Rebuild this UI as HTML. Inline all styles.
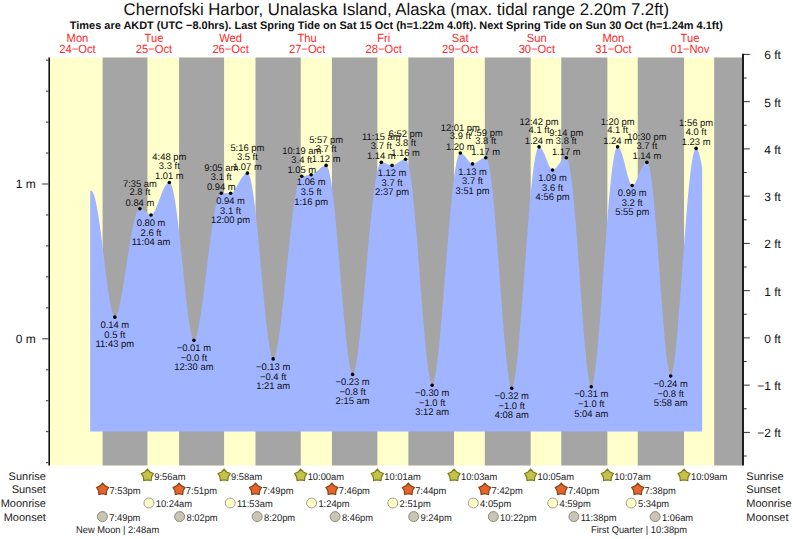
<!DOCTYPE html>
<html><head><meta charset="utf-8"><style>
html,body{margin:0;padding:0;background:#fff;width:793px;height:539px;overflow:hidden}
svg{display:block}
text{font-family:"Liberation Sans",sans-serif;text-rendering:geometricPrecision}
.tl{font-size:9.6px;fill:#111;text-anchor:middle}
.ax{font-size:12px;fill:#111}
.title{font-size:17px;fill:#111;text-anchor:middle}
.sub{font-size:11px;font-weight:bold;fill:#111;text-anchor:middle}
.day{font-size:11.9px;fill:#ff2626;text-anchor:middle}
.row{font-size:11px;fill:#222}
.ev{font-size:9.8px;fill:#222}
</style></head><body>
<svg width="793" height="539" viewBox="0 0 793 539">
<rect x="50" y="57.5" width="692" height="408.0" fill="#ffffcc"/>
<rect x="102.60" y="57.5" width="44.82" height="408.0" fill="#a5a5a5"/>
<rect x="179.05" y="57.5" width="45.03" height="408.0" fill="#a5a5a5"/>
<rect x="255.51" y="57.5" width="45.24" height="408.0" fill="#a5a5a5"/>
<rect x="331.91" y="57.5" width="45.46" height="408.0" fill="#a5a5a5"/>
<rect x="408.36" y="57.5" width="45.67" height="408.0" fill="#a5a5a5"/>
<rect x="484.81" y="57.5" width="45.88" height="408.0" fill="#a5a5a5"/>
<rect x="561.27" y="57.5" width="46.10" height="408.0" fill="#a5a5a5"/>
<rect x="637.72" y="57.5" width="46.31" height="408.0" fill="#a5a5a5"/>
<rect x="714.17" y="57.5" width="27.83" height="408.0" fill="#a5a5a5"/>
<path d="M90.20,431.5L90.20,190.66L90.52,190.66L90.84,190.66L91.16,190.67L91.48,190.77L91.80,190.97L92.11,191.27L92.43,191.67L92.75,192.17L93.07,192.77L93.39,193.46L93.71,194.25L94.03,195.14L94.35,196.12L94.67,197.20L94.98,198.36L95.30,199.61L95.62,200.95L95.94,202.38L96.26,203.89L96.58,205.48L96.90,207.15L97.22,208.89L97.54,210.71L97.86,212.59L98.17,214.55L98.49,216.57L98.81,218.65L99.13,220.79L99.45,222.98L99.77,225.23L100.09,227.52L100.41,229.86L100.73,232.24L101.05,234.66L101.36,237.11L101.68,239.59L102.00,242.09L102.32,244.62L102.64,247.17L102.96,249.73L103.28,252.30L103.60,254.88L103.92,257.46L104.24,260.04L104.55,262.61L104.87,265.17L105.19,267.72L105.51,270.25L105.83,272.75L106.15,275.23L106.47,277.68L106.79,280.09L107.11,282.46L107.43,284.79L107.74,287.07L108.06,289.31L108.38,291.48L108.70,293.60L109.02,295.65L109.34,297.64L109.66,299.55L109.98,301.39L110.30,303.15L110.62,304.83L110.93,306.42L111.25,307.92L111.57,309.32L111.89,310.63L112.21,311.83L112.53,312.93L112.85,313.91L113.17,314.78L113.49,315.53L113.81,316.15L114.12,316.63L114.44,316.96L114.76,317.12L115.08,317.06L115.40,316.86L115.72,316.52L116.04,316.08L116.36,315.54L116.68,314.90L117.00,314.16L117.31,313.34L117.63,312.43L117.95,311.44L118.27,310.37L118.59,309.23L118.91,308.01L119.23,306.72L119.55,305.36L119.87,303.94L120.19,302.46L120.50,300.92L120.82,299.32L121.14,297.67L121.46,295.97L121.78,294.22L122.10,292.43L122.42,290.60L122.74,288.73L123.06,286.82L123.38,284.88L123.69,282.91L124.01,280.92L124.33,278.90L124.65,276.86L124.97,274.80L125.29,272.73L125.61,270.65L125.93,268.56L126.25,266.46L126.57,264.36L126.88,262.26L127.20,260.17L127.52,258.08L127.84,256.00L128.16,253.94L128.48,251.89L128.80,249.86L129.12,247.85L129.44,245.86L129.76,243.91L130.07,241.98L130.39,240.08L130.71,238.22L131.03,236.39L131.35,234.61L131.67,232.87L131.99,231.17L132.31,229.52L132.63,227.92L132.95,226.37L133.26,224.88L133.58,223.44L133.90,222.06L134.22,220.74L134.54,219.48L134.86,218.28L135.18,217.15L135.50,216.08L135.82,215.08L136.14,214.16L136.45,213.30L136.77,212.51L137.09,211.80L137.41,211.16L137.73,210.59L138.05,210.10L138.37,209.69L138.69,209.35L139.01,209.09L139.33,208.90L139.64,208.80L139.96,208.77L140.28,208.78L140.60,208.82L140.92,208.88L141.24,208.96L141.56,209.06L141.88,209.19L142.20,209.33L142.52,209.49L142.83,209.67L143.15,209.86L143.47,210.08L143.79,210.30L144.11,210.54L144.43,210.78L144.75,211.04L145.07,211.30L145.39,211.57L145.71,211.84L146.02,212.11L146.34,212.38L146.66,212.64L146.98,212.91L147.30,213.16L147.62,213.41L147.94,213.64L148.26,213.86L148.58,214.07L148.90,214.26L149.21,214.43L149.53,214.59L149.85,214.72L150.17,214.82L150.49,214.90L150.81,214.95L151.13,214.95L151.45,214.88L151.77,214.74L152.09,214.53L152.40,214.27L152.72,213.96L153.04,213.60L153.36,213.19L153.68,212.73L154.00,212.24L154.32,211.70L154.64,211.13L154.96,210.52L155.28,209.88L155.59,209.21L155.91,208.51L156.23,207.79L156.55,207.04L156.87,206.26L157.19,205.47L157.51,204.66L157.83,203.84L158.15,203.00L158.47,202.16L158.78,201.30L159.10,200.44L159.42,199.58L159.74,198.72L160.06,197.85L160.38,196.99L160.70,196.14L161.02,195.30L161.34,194.47L161.66,193.65L161.97,192.84L162.29,192.05L162.61,191.28L162.93,190.54L163.25,189.81L163.57,189.11L163.89,188.44L164.21,187.79L164.53,187.18L164.85,186.60L165.16,186.05L165.48,185.53L165.80,185.06L166.12,184.61L166.44,184.21L166.76,183.85L167.08,183.53L167.40,183.24L167.72,183.00L168.04,182.81L168.35,182.65L168.67,182.54L168.99,182.48L169.31,182.45L169.63,182.51L169.95,182.68L170.27,182.97L170.59,183.38L170.91,183.91L171.23,184.55L171.54,185.31L171.86,186.18L172.18,187.16L172.50,188.26L172.82,189.47L173.14,190.78L173.46,192.20L173.78,193.73L174.10,195.36L174.42,197.08L174.73,198.91L175.05,200.83L175.37,202.84L175.69,204.94L176.01,207.13L176.33,209.40L176.65,211.75L176.97,214.18L177.29,216.68L177.61,219.25L177.93,221.89L178.24,224.59L178.56,227.34L178.88,230.15L179.20,233.01L179.52,235.92L179.84,238.87L180.16,241.86L180.48,244.87L180.80,247.92L181.12,250.99L181.43,254.08L181.75,257.19L182.07,260.31L182.39,263.43L182.71,266.55L183.03,269.68L183.35,272.79L183.67,275.89L183.99,278.97L184.31,282.03L184.62,285.06L184.94,288.06L185.26,291.03L185.58,293.95L185.90,296.83L186.22,299.65L186.54,302.42L186.86,305.14L187.18,307.78L187.50,310.36L187.81,312.87L188.13,315.30L188.45,317.64L188.77,319.90L189.09,322.07L189.41,324.14L189.73,326.11L190.05,327.98L190.37,329.74L190.69,331.38L191.00,332.91L191.32,334.31L191.64,335.59L191.96,336.73L192.28,337.73L192.60,338.59L192.92,339.30L193.24,339.84L193.56,340.20L193.88,340.35L194.19,340.24L194.51,339.98L194.83,339.57L195.15,339.04L195.47,338.39L195.79,337.63L196.11,336.75L196.43,335.78L196.75,334.71L197.07,333.54L197.38,332.28L197.70,330.93L198.02,329.49L198.34,327.97L198.66,326.37L198.98,324.69L199.30,322.94L199.62,321.12L199.94,319.23L200.26,317.28L200.57,315.26L200.89,313.18L201.21,311.05L201.53,308.87L201.85,306.63L202.17,304.35L202.49,302.02L202.81,299.66L203.13,297.25L203.45,294.81L203.76,292.34L204.08,289.84L204.40,287.32L204.72,284.78L205.04,282.21L205.36,279.63L205.68,277.04L206.00,274.44L206.32,271.83L206.64,269.22L206.95,266.61L207.27,264.01L207.59,261.41L207.91,258.82L208.23,256.24L208.55,253.68L208.87,251.13L209.19,248.61L209.51,246.12L209.83,243.65L210.14,241.21L210.46,238.81L210.78,236.44L211.10,234.11L211.42,231.82L211.74,229.58L212.06,227.38L212.38,225.24L212.70,223.14L213.02,221.10L213.33,219.12L213.65,217.20L213.97,215.33L214.29,213.53L214.61,211.80L214.93,210.13L215.25,208.54L215.57,207.01L215.89,205.56L216.21,204.18L216.52,202.88L216.84,201.65L217.16,200.51L217.48,199.44L217.80,198.46L218.12,197.56L218.44,196.75L218.76,196.01L219.08,195.37L219.40,194.81L219.71,194.33L220.03,193.95L220.35,193.65L220.67,193.44L220.99,193.32L221.31,193.29L221.63,193.29L221.95,193.29L222.27,193.29L222.59,193.29L222.90,193.29L223.22,193.29L223.54,193.29L223.86,193.29L224.18,193.29L224.50,193.29L224.82,193.29L225.14,193.29L225.46,193.29L225.78,193.29L226.09,193.29L226.41,193.29L226.73,193.29L227.05,193.29L227.37,193.29L227.69,193.29L228.01,193.29L228.33,193.29L228.65,193.29L228.97,193.29L229.28,193.29L229.60,193.29L229.92,193.29L230.24,193.29L230.56,193.29L230.88,193.25L231.20,193.17L231.52,193.03L231.84,192.86L232.16,192.64L232.47,192.40L232.79,192.11L233.11,191.80L233.43,191.45L233.75,191.08L234.07,190.68L234.39,190.26L234.71,189.81L235.03,189.34L235.35,188.85L235.66,188.34L235.98,187.82L236.30,187.29L236.62,186.74L236.94,186.18L237.26,185.61L237.58,185.04L237.90,184.46L238.22,183.88L238.54,183.30L238.85,182.72L239.17,182.14L239.49,181.56L239.81,181.00L240.13,180.44L240.45,179.89L240.77,179.35L241.09,178.83L241.41,178.32L241.73,177.82L242.04,177.35L242.36,176.89L242.68,176.46L243.00,176.05L243.32,175.66L243.64,175.29L243.96,174.96L244.28,174.64L244.60,174.36L244.92,174.10L245.23,173.88L245.55,173.68L245.87,173.52L246.19,173.38L246.51,173.28L246.83,173.21L247.15,173.17L247.47,173.17L247.79,173.27L248.11,173.50L248.42,173.85L248.74,174.33L249.06,174.93L249.38,175.66L249.70,176.51L250.02,177.48L250.34,178.58L250.66,179.79L250.98,181.12L251.30,182.56L251.61,184.12L251.93,185.80L252.25,187.58L252.57,189.47L252.89,191.47L253.21,193.56L253.53,195.76L253.85,198.06L254.17,200.45L254.49,202.93L254.80,205.49L255.12,208.15L255.44,210.88L255.76,213.69L256.08,216.58L256.40,219.53L256.72,222.55L257.04,225.64L257.36,228.78L257.68,231.98L257.99,235.22L258.31,238.52L258.63,241.85L258.95,245.22L259.27,248.62L259.59,252.05L259.91,255.51L260.23,258.98L260.55,262.47L260.87,265.96L261.18,269.46L261.50,272.96L261.82,276.46L262.14,279.94L262.46,283.42L262.78,286.87L263.10,290.30L263.42,293.70L263.74,297.06L264.06,300.39L264.37,303.67L264.69,306.91L265.01,310.09L265.33,313.22L265.65,316.28L265.97,319.28L266.29,322.21L266.61,325.05L266.93,327.82L267.25,330.51L267.56,333.10L267.88,335.60L268.20,338.00L268.52,340.30L268.84,342.49L269.16,344.57L269.48,346.53L269.80,348.37L270.12,350.09L270.44,351.67L270.75,353.12L271.07,354.42L271.39,355.58L271.71,356.59L272.03,357.43L272.35,358.10L272.67,358.59L272.99,358.87L273.31,358.89L273.63,358.67L273.94,358.28L274.26,357.74L274.58,357.06L274.90,356.25L275.22,355.31L275.54,354.25L275.86,353.07L276.18,351.78L276.50,350.39L276.82,348.88L277.13,347.28L277.45,345.57L277.77,343.78L278.09,341.89L278.41,339.91L278.73,337.85L279.05,335.71L279.37,333.48L279.69,331.19L280.01,328.82L280.32,326.38L280.64,323.88L280.96,321.31L281.28,318.69L281.60,316.01L281.92,313.27L282.24,310.49L282.56,307.67L282.88,304.80L283.20,301.89L283.51,298.95L283.83,295.98L284.15,292.98L284.47,289.95L284.79,286.90L285.11,283.84L285.43,280.76L285.75,277.66L286.07,274.57L286.39,271.46L286.70,268.36L287.02,265.26L287.34,262.16L287.66,259.08L287.98,256.01L288.30,252.95L288.62,249.91L288.94,246.90L289.26,243.91L289.58,240.96L289.89,238.03L290.21,235.14L290.53,232.29L290.85,229.48L291.17,226.72L291.49,224.00L291.81,221.34L292.13,218.72L292.45,216.17L292.77,213.67L293.08,211.24L293.40,208.86L293.72,206.56L294.04,204.33L294.36,202.16L294.68,200.07L295.00,198.06L295.32,196.12L295.64,194.27L295.96,192.49L296.27,190.80L296.59,189.20L296.91,187.68L297.23,186.25L297.55,184.92L297.87,183.67L298.19,182.52L298.51,181.46L298.83,180.50L299.15,179.63L299.46,178.86L299.78,178.19L300.10,177.62L300.42,177.15L300.74,176.78L301.06,176.50L301.38,176.33L301.70,176.26L302.02,176.25L302.34,176.24L302.65,176.21L302.97,176.17L303.29,176.13L303.61,176.08L303.93,176.02L304.25,175.96L304.57,175.89L304.89,175.82L305.21,175.74L305.53,175.67L305.84,175.59L306.16,175.51L306.48,175.43L306.80,175.35L307.12,175.27L307.44,175.20L307.76,175.12L308.08,175.06L308.40,174.99L308.72,174.94L309.03,174.88L309.35,174.84L309.67,174.80L309.99,174.77L310.31,174.74L310.63,174.72L310.95,174.71L311.27,174.71L311.59,174.68L311.91,174.62L312.22,174.54L312.54,174.43L312.86,174.30L313.18,174.15L313.50,173.99L313.82,173.80L314.14,173.60L314.46,173.39L314.78,173.16L315.10,172.92L315.41,172.67L315.73,172.40L316.05,172.13L316.37,171.85L316.69,171.56L317.01,171.27L317.33,170.97L317.65,170.67L317.97,170.37L318.29,170.07L318.60,169.77L318.92,169.47L319.24,169.17L319.56,168.88L319.88,168.59L320.20,168.31L320.52,168.04L320.84,167.78L321.16,167.52L321.48,167.28L321.79,167.05L322.11,166.83L322.43,166.62L322.75,166.43L323.07,166.25L323.39,166.09L323.71,165.95L324.03,165.82L324.35,165.71L324.67,165.62L324.98,165.54L325.30,165.48L325.62,165.45L325.94,165.43L326.26,165.44L326.58,165.57L326.90,165.83L327.22,166.23L327.54,166.77L327.86,167.43L328.17,168.23L328.49,169.16L328.81,170.22L329.13,171.41L329.45,172.72L329.77,174.17L330.09,175.73L330.41,177.42L330.73,179.23L331.05,181.15L331.36,183.20L331.68,185.35L332.00,187.62L332.32,189.99L332.64,192.47L332.96,195.04L333.28,197.72L333.60,200.50L333.92,203.36L334.24,206.31L334.55,209.35L334.87,212.47L335.19,215.66L335.51,218.93L335.83,222.27L336.15,225.67L336.47,229.13L336.79,232.65L337.11,236.22L337.43,239.84L337.74,243.50L338.06,247.20L338.38,250.94L338.70,254.70L339.02,258.49L339.34,262.29L339.66,266.12L339.98,269.95L340.30,273.78L340.62,277.62L340.93,281.45L341.25,285.27L341.57,289.07L341.89,292.86L342.21,296.62L342.53,300.35L342.85,304.04L343.17,307.70L343.49,311.31L343.81,314.87L344.12,318.37L344.44,321.82L344.76,325.20L345.08,328.51L345.40,331.75L345.72,334.91L346.04,337.98L346.36,340.97L346.68,343.86L347.00,346.65L347.31,349.35L347.63,351.93L347.95,354.40L348.27,356.76L348.59,358.99L348.91,361.10L349.23,363.08L349.55,364.92L349.87,366.62L350.19,368.17L350.50,369.58L350.82,370.82L351.14,371.90L351.46,372.80L351.78,373.52L352.10,374.05L352.42,374.35L352.74,374.37L353.06,374.11L353.38,373.67L353.69,373.04L354.01,372.26L354.33,371.32L354.65,370.24L354.97,369.02L355.29,367.66L355.61,366.17L355.93,364.56L356.25,362.82L356.56,360.97L356.88,359.01L357.20,356.93L357.52,354.75L357.84,352.47L358.16,350.09L358.48,347.62L358.80,345.06L359.12,342.41L359.44,339.67L359.75,336.86L360.07,333.97L360.39,331.01L360.71,327.98L361.03,324.88L361.35,321.73L361.67,318.52L361.99,315.26L362.31,311.94L362.63,308.59L362.94,305.19L363.26,301.75L363.58,298.28L363.90,294.79L364.22,291.26L364.54,287.72L364.86,284.16L365.18,280.58L365.50,277.00L365.82,273.41L366.13,269.82L366.45,266.24L366.77,262.65L367.09,259.08L367.41,255.53L367.73,251.99L368.05,248.47L368.37,244.98L368.69,241.52L369.01,238.09L369.32,234.70L369.64,231.35L369.96,228.04L370.28,224.79L370.60,221.58L370.92,218.42L371.24,215.33L371.56,212.29L371.88,209.32L372.20,206.42L372.51,203.58L372.83,200.82L373.15,198.14L373.47,195.53L373.79,193.01L374.11,190.57L374.43,188.22L374.75,185.96L375.07,183.79L375.39,181.71L375.70,179.73L376.02,177.85L376.34,176.06L376.66,174.38L376.98,172.81L377.30,171.34L377.62,169.97L377.94,168.71L378.26,167.57L378.58,166.53L378.89,165.61L379.21,164.80L379.53,164.10L379.85,163.52L380.17,163.05L380.49,162.70L380.81,162.46L381.13,162.34L381.45,162.33L381.77,162.34L382.08,162.36L382.40,162.40L382.72,162.45L383.04,162.51L383.36,162.58L383.68,162.65L384.00,162.74L384.32,162.84L384.64,162.95L384.96,163.06L385.27,163.18L385.59,163.31L385.91,163.44L386.23,163.58L386.55,163.71L386.87,163.85L387.19,163.99L387.51,164.13L387.83,164.27L388.15,164.41L388.46,164.54L388.78,164.66L389.10,164.79L389.42,164.90L389.74,165.00L390.06,165.10L390.38,165.19L390.70,165.26L391.02,165.32L391.34,165.37L391.65,165.41L391.97,165.42L392.29,165.41L392.61,165.38L392.93,165.32L393.25,165.24L393.57,165.15L393.89,165.04L394.21,164.92L394.53,164.78L394.84,164.63L395.16,164.47L395.48,164.29L395.80,164.11L396.12,163.92L396.44,163.72L396.76,163.51L397.08,163.30L397.40,163.09L397.72,162.87L398.03,162.65L398.35,162.43L398.67,162.20L398.99,161.98L399.31,161.77L399.63,161.55L399.95,161.34L400.27,161.13L400.59,160.94L400.91,160.74L401.22,160.56L401.54,160.38L401.86,160.22L402.18,160.07L402.50,159.92L402.82,159.79L403.14,159.67L403.46,159.57L403.78,159.48L404.10,159.40L404.41,159.34L404.73,159.29L405.05,159.25L405.37,159.24L405.69,159.24L406.01,159.35L406.33,159.61L406.65,160.02L406.97,160.57L407.29,161.26L407.60,162.09L407.92,163.06L408.24,164.18L408.56,165.43L408.88,166.82L409.20,168.35L409.52,170.00L409.84,171.79L410.16,173.71L410.48,175.76L410.79,177.93L411.11,180.22L411.43,182.63L411.75,185.16L412.07,187.80L412.39,190.55L412.71,193.41L413.03,196.37L413.35,199.43L413.67,202.59L413.98,205.83L414.30,209.17L414.62,212.59L414.94,216.09L415.26,219.66L415.58,223.31L415.90,227.02L416.22,230.79L416.54,234.62L416.86,238.50L417.17,242.44L417.49,246.41L417.81,250.42L418.13,254.46L418.45,258.53L418.77,262.63L419.09,266.74L419.41,270.86L419.73,274.99L420.05,279.12L420.36,283.25L420.68,287.37L421.00,291.48L421.32,295.56L421.64,299.62L421.96,303.65L422.28,307.65L422.60,311.60L422.92,315.51L423.24,319.37L423.55,323.17L423.87,326.90L424.19,330.57L424.51,334.17L424.83,337.69L425.15,341.13L425.47,344.48L425.79,347.74L426.11,350.89L426.43,353.95L426.74,356.90L427.06,359.73L427.38,362.45L427.70,365.04L428.02,367.51L428.34,369.84L428.66,372.03L428.98,374.09L429.30,375.99L429.62,377.74L429.93,379.32L430.25,380.75L430.57,381.99L430.89,383.06L431.21,383.93L431.53,384.60L431.85,385.05L432.17,385.24L432.49,385.08L432.81,384.68L433.12,384.07L433.44,383.27L433.76,382.29L434.08,381.14L434.40,379.83L434.72,378.37L435.04,376.75L435.36,374.99L435.68,373.09L436.00,371.05L436.31,368.89L436.63,366.60L436.95,364.18L437.27,361.65L437.59,359.01L437.91,356.26L438.23,353.41L438.55,350.45L438.87,347.41L439.19,344.27L439.50,341.04L439.82,337.73L440.14,334.34L440.46,330.88L440.78,327.36L441.10,323.76L441.42,320.11L441.74,316.40L442.06,312.64L442.38,308.84L442.69,304.99L443.01,301.11L443.33,297.19L443.65,293.25L443.97,289.28L444.29,285.30L444.61,281.30L444.93,277.29L445.25,273.28L445.57,269.27L445.88,265.26L446.20,261.26L446.52,257.28L446.84,253.31L447.16,249.37L447.48,245.45L447.80,241.57L448.12,237.72L448.44,233.91L448.76,230.15L449.07,226.43L449.39,222.77L449.71,219.16L450.03,215.61L450.35,212.13L450.67,208.72L450.99,205.38L451.31,202.11L451.63,198.92L451.95,195.82L452.26,192.80L452.58,189.88L452.90,187.04L453.22,184.30L453.54,181.66L453.86,179.12L454.18,176.69L454.50,174.36L454.82,172.14L455.14,170.04L455.45,168.05L455.77,166.17L456.09,164.41L456.41,162.78L456.73,161.26L457.05,159.87L457.37,158.61L457.69,157.47L458.01,156.46L458.33,155.58L458.64,154.83L458.96,154.21L459.28,153.72L459.60,153.36L459.92,153.14L460.24,153.04L460.56,153.05L460.88,153.09L461.20,153.17L461.52,153.28L461.83,153.41L462.15,153.58L462.47,153.78L462.79,154.01L463.11,154.26L463.43,154.54L463.75,154.85L464.07,155.17L464.39,155.52L464.71,155.89L465.02,156.27L465.34,156.66L465.66,157.07L465.98,157.49L466.30,157.91L466.62,158.34L466.94,158.77L467.26,159.20L467.58,159.63L467.90,160.05L468.21,160.46L468.53,160.86L468.85,161.25L469.17,161.62L469.49,161.97L469.81,162.30L470.13,162.61L470.45,162.89L470.77,163.14L471.09,163.36L471.40,163.54L471.72,163.69L472.04,163.80L472.36,163.86L472.68,163.87L473.00,163.84L473.32,163.79L473.64,163.72L473.96,163.62L474.28,163.51L474.59,163.39L474.91,163.25L475.23,163.10L475.55,162.93L475.87,162.75L476.19,162.56L476.51,162.37L476.83,162.16L477.15,161.95L477.47,161.73L477.78,161.51L478.10,161.29L478.42,161.06L478.74,160.83L479.06,160.60L479.38,160.38L479.70,160.15L480.02,159.93L480.34,159.72L480.66,159.51L480.97,159.31L481.29,159.11L481.61,158.93L481.93,158.75L482.25,158.59L482.57,158.44L482.89,158.30L483.21,158.17L483.53,158.06L483.85,157.96L484.16,157.87L484.48,157.80L484.80,157.75L485.12,157.71L485.44,157.69L485.76,157.69L486.08,157.78L486.40,158.04L486.72,158.44L487.04,159.00L487.35,159.71L487.67,160.58L487.99,161.59L488.31,162.75L488.63,164.06L488.95,165.52L489.27,167.12L489.59,168.87L489.91,170.75L490.23,172.77L490.54,174.93L490.86,177.22L491.18,179.63L491.50,182.18L491.82,184.85L492.14,187.63L492.46,190.54L492.78,193.55L493.10,196.68L493.42,199.91L493.73,203.24L494.05,206.67L494.37,210.19L494.69,213.79L495.01,217.48L495.33,221.25L495.65,225.09L495.97,229.00L496.29,232.97L496.61,237.00L496.92,241.08L497.24,245.21L497.56,249.38L497.88,253.59L498.20,257.83L498.52,262.10L498.84,266.39L499.16,270.69L499.48,275.00L499.80,279.31L500.11,283.62L500.43,287.92L500.75,292.20L501.07,296.47L501.39,300.71L501.71,304.91L502.03,309.08L502.35,313.21L502.67,317.29L502.99,321.31L503.30,325.27L503.62,329.16L503.94,332.99L504.26,336.73L504.58,340.39L504.90,343.96L505.22,347.44L505.54,350.82L505.86,354.09L506.18,357.24L506.49,360.29L506.81,363.21L507.13,366.00L507.45,368.66L507.77,371.18L508.09,373.56L508.41,375.78L508.73,377.86L509.05,379.77L509.37,381.51L509.68,383.08L510.00,384.47L510.32,385.66L510.64,386.66L510.96,387.45L511.28,388.01L511.60,388.31L511.92,388.26L512.24,387.90L512.56,387.30L512.87,386.49L513.19,385.49L513.51,384.29L513.83,382.91L514.15,381.36L514.47,379.65L514.79,377.77L515.11,375.75L515.43,373.57L515.75,371.25L516.06,368.79L516.38,366.20L516.70,363.48L517.02,360.63L517.34,357.67L517.66,354.59L517.98,351.41L518.30,348.12L518.62,344.73L518.94,341.25L519.25,337.68L519.57,334.03L519.89,330.29L520.21,326.49L520.53,322.61L520.85,318.67L521.17,314.67L521.49,310.62L521.81,306.52L522.13,302.38L522.44,298.20L522.76,293.99L523.08,289.75L523.40,285.49L523.72,281.22L524.04,276.93L524.36,272.64L524.68,268.34L525.00,264.05L525.32,259.77L525.63,255.51L525.95,251.26L526.27,247.04L526.59,242.85L526.91,238.69L527.23,234.57L527.55,230.50L527.87,226.48L528.19,222.51L528.51,218.60L528.82,214.75L529.14,210.97L529.46,207.26L529.78,203.63L530.10,200.08L530.42,196.62L530.74,193.24L531.06,189.96L531.38,186.77L531.70,183.69L532.01,180.70L532.33,177.83L532.65,175.06L532.97,172.41L533.29,169.88L533.61,167.46L533.93,165.17L534.25,163.01L534.57,160.97L534.89,159.06L535.20,157.28L535.52,155.64L535.84,154.13L536.16,152.76L536.48,151.53L536.80,150.44L537.12,149.50L537.44,148.69L537.76,148.03L538.08,147.52L538.39,147.15L538.71,146.93L539.03,146.85L539.35,146.87L539.67,146.96L539.99,147.10L540.31,147.30L540.63,147.55L540.95,147.86L541.27,148.22L541.58,148.63L541.90,149.09L542.22,149.60L542.54,150.15L542.86,150.74L543.18,151.38L543.50,152.05L543.82,152.75L544.14,153.48L544.46,154.24L544.77,155.02L545.09,155.82L545.41,156.63L545.73,157.46L546.05,158.29L546.37,159.13L546.69,159.96L547.01,160.79L547.33,161.61L547.65,162.42L547.96,163.20L548.28,163.97L548.60,164.71L548.92,165.42L549.24,166.09L549.56,166.73L549.88,167.32L550.20,167.87L550.52,168.37L550.84,168.81L551.15,169.20L551.47,169.52L551.79,169.78L552.11,169.96L552.43,170.06L552.75,170.05L553.07,169.99L553.39,169.89L553.71,169.74L554.03,169.57L554.34,169.36L554.66,169.12L554.98,168.85L555.30,168.56L555.62,168.25L555.94,167.91L556.26,167.55L556.58,167.18L556.90,166.79L557.22,166.39L557.53,165.97L557.85,165.55L558.17,165.12L558.49,164.69L558.81,164.25L559.13,163.81L559.45,163.37L559.77,162.94L560.09,162.51L560.41,162.09L560.72,161.68L561.04,161.28L561.36,160.89L561.68,160.52L562.00,160.17L562.32,159.83L562.64,159.51L562.96,159.22L563.28,158.95L563.60,158.70L563.91,158.47L564.23,158.28L564.55,158.11L564.87,157.97L565.19,157.85L565.51,157.77L565.83,157.71L566.15,157.69L566.47,157.72L566.79,157.91L567.10,158.26L567.42,158.78L567.74,159.46L568.06,160.31L568.38,161.32L568.70,162.49L569.02,163.81L569.34,165.30L569.66,166.94L569.98,168.74L570.29,170.68L570.61,172.78L570.93,175.01L571.25,177.39L571.57,179.91L571.89,182.57L572.21,185.35L572.53,188.27L572.85,191.31L573.17,194.46L573.48,197.74L573.80,201.12L574.12,204.61L574.44,208.20L574.76,211.89L575.08,215.67L575.40,219.53L575.72,223.48L576.04,227.50L576.36,231.59L576.67,235.74L576.99,239.95L577.31,244.21L577.63,248.52L577.95,252.87L578.27,257.25L578.59,261.66L578.91,266.09L579.23,270.54L579.55,274.99L579.86,279.45L580.18,283.90L580.50,288.34L580.82,292.76L581.14,297.16L581.46,301.53L581.78,305.86L582.10,310.15L582.42,314.39L582.74,318.57L583.05,322.69L583.37,326.74L583.69,330.71L584.01,334.60L584.33,338.41L584.65,342.12L584.97,345.72L585.29,349.22L585.61,352.61L585.93,355.88L586.24,359.02L586.56,362.03L586.88,364.91L587.20,367.64L587.52,370.22L587.84,372.64L588.16,374.90L588.48,376.99L588.80,378.91L589.12,380.65L589.43,382.19L589.75,383.54L590.07,384.67L590.39,385.59L590.71,386.27L591.03,386.68L591.35,386.77L591.67,386.48L591.99,385.93L592.31,385.15L592.62,384.15L592.94,382.95L593.26,381.55L593.58,379.97L593.90,378.21L594.22,376.29L594.54,374.19L594.86,371.94L595.18,369.54L595.50,366.99L595.81,364.30L596.13,361.47L596.45,358.51L596.77,355.43L597.09,352.23L597.41,348.91L597.73,345.48L598.05,341.95L598.37,338.33L598.69,334.61L599.00,330.80L599.32,326.91L599.64,322.95L599.96,318.92L600.28,314.82L600.60,310.66L600.92,306.46L601.24,302.20L601.56,297.90L601.88,293.57L602.19,289.21L602.51,284.83L602.83,280.42L603.15,276.01L603.47,271.59L603.79,267.17L604.11,262.75L604.43,258.35L604.75,253.96L605.07,249.59L605.38,245.25L605.70,240.94L606.02,236.68L606.34,232.45L606.66,228.28L606.98,224.16L607.30,220.10L607.62,216.11L607.94,212.19L608.26,208.34L608.57,204.57L608.89,200.88L609.21,197.29L609.53,193.79L609.85,190.38L610.17,187.08L610.49,183.89L610.81,180.80L611.13,177.83L611.45,174.98L611.76,172.25L612.08,169.64L612.40,167.16L612.72,164.81L613.04,162.60L613.36,160.52L613.68,158.58L614.00,156.79L614.32,155.13L614.64,153.62L614.95,152.26L615.27,151.05L615.59,149.99L615.91,149.09L616.23,148.33L616.55,147.73L616.87,147.28L617.19,146.99L617.51,146.86L617.83,146.86L618.14,146.96L618.46,147.13L618.78,147.39L619.10,147.72L619.42,148.13L619.74,148.62L620.06,149.19L620.38,149.82L620.70,150.53L621.02,151.30L621.33,152.14L621.65,153.04L621.97,153.99L622.29,155.00L622.61,156.06L622.93,157.16L623.25,158.30L623.57,159.48L623.89,160.69L624.21,161.92L624.52,163.18L624.84,164.45L625.16,165.73L625.48,167.02L625.80,168.30L626.12,169.58L626.44,170.85L626.76,172.10L627.08,173.33L627.40,174.53L627.71,175.70L628.03,176.82L628.35,177.91L628.67,178.94L628.99,179.93L629.31,180.85L629.63,181.70L629.95,182.49L630.27,183.20L630.59,183.83L630.90,184.37L631.22,184.83L631.54,185.18L631.86,185.42L632.18,185.54L632.50,185.51L632.82,185.39L633.14,185.21L633.46,184.96L633.78,184.65L634.09,184.29L634.41,183.89L634.73,183.43L635.05,182.94L635.37,182.40L635.69,181.82L636.01,181.21L636.33,180.58L636.65,179.91L636.97,179.22L637.28,178.50L637.60,177.77L637.92,177.03L638.24,176.27L638.56,175.50L638.88,174.73L639.20,173.96L639.52,173.19L639.84,172.43L640.16,171.67L640.47,170.92L640.79,170.19L641.11,169.48L641.43,168.78L641.75,168.11L642.07,167.47L642.39,166.85L642.71,166.27L643.03,165.71L643.35,165.20L643.66,164.72L643.98,164.28L644.30,163.88L644.62,163.52L644.94,163.21L645.26,162.94L645.58,162.72L645.90,162.55L646.22,162.43L646.54,162.35L646.85,162.33L647.17,162.41L647.49,162.66L647.81,163.08L648.13,163.67L648.45,164.42L648.77,165.35L649.09,166.44L649.41,167.69L649.73,169.10L650.04,170.68L650.36,172.41L650.68,174.30L651.00,176.34L651.32,178.53L651.64,180.86L651.96,183.34L652.28,185.96L652.60,188.71L652.92,191.59L653.23,194.59L653.55,197.72L653.87,200.96L654.19,204.32L654.51,207.78L654.83,211.35L655.15,215.01L655.47,218.76L655.79,222.59L656.11,226.50L656.42,230.49L656.74,234.54L657.06,238.65L657.38,242.82L657.70,247.03L658.02,251.29L658.34,255.58L658.66,259.89L658.98,264.23L659.30,268.58L659.61,272.94L659.93,277.30L660.25,281.65L660.57,285.99L660.89,290.30L661.21,294.59L661.53,298.85L661.85,303.06L662.17,307.22L662.49,311.33L662.80,315.37L663.12,319.35L663.44,323.24L663.76,327.06L664.08,330.78L664.40,334.41L664.72,337.93L665.04,341.35L665.36,344.64L665.68,347.81L665.99,350.86L666.31,353.76L666.63,356.52L666.95,359.14L667.27,361.59L667.59,363.88L667.91,366.01L668.23,367.95L668.55,369.71L668.87,371.28L669.18,372.65L669.50,373.80L669.82,374.73L670.14,375.42L670.46,375.84L670.78,375.93L671.10,375.64L671.42,375.08L671.74,374.29L672.06,373.28L672.37,372.06L672.69,370.64L673.01,369.04L673.33,367.27L673.65,365.31L673.97,363.20L674.29,360.92L674.61,358.49L674.93,355.91L675.25,353.19L675.56,350.34L675.88,347.35L676.20,344.24L676.52,341.02L676.84,337.68L677.16,334.23L677.48,330.68L677.80,327.03L678.12,323.30L678.44,319.48L678.75,315.59L679.07,311.62L679.39,307.59L679.71,303.50L680.03,299.35L680.35,295.16L680.67,290.92L680.99,286.66L681.31,282.36L681.63,278.04L681.94,273.70L682.26,269.35L682.58,265.00L682.90,260.65L683.22,256.31L683.54,251.98L683.86,247.67L684.18,243.39L684.50,239.14L684.82,234.93L685.13,230.76L685.45,226.64L685.77,222.57L686.09,218.56L686.41,214.62L686.73,210.75L687.05,206.96L687.37,203.25L687.69,199.62L688.01,196.08L688.32,192.64L688.64,189.30L688.96,186.07L689.28,182.94L689.60,179.93L689.92,177.04L690.24,174.26L690.56,171.62L690.88,169.10L691.20,166.71L691.51,164.45L691.83,162.34L692.15,160.36L692.47,158.53L692.79,156.85L693.11,155.31L693.43,153.92L693.75,152.69L694.07,151.61L694.39,150.68L694.70,149.91L695.02,149.30L695.34,148.84L695.66,148.54L695.98,148.41L696.30,148.42L696.62,148.56L696.94,148.82L697.26,149.19L697.58,149.69L697.89,150.30L698.21,151.03L698.53,151.87L698.85,152.81L699.17,153.86L699.49,155.01L699.81,156.26L700.13,157.60L700.45,159.02L700.77,160.53L701.08,162.11L701.40,163.76L701.72,165.48L702.04,167.25L702.20,168.15L702.20,431.5Z" fill="#a0b4ff"/>
<circle cx="114.83" cy="317.13" r="1.8" fill="#000"/>
<text transform="translate(114.83,327.83) scale(0.98,1)" class="tl">0.14 m</text>
<text transform="translate(114.83,337.73) scale(0.98,1)" class="tl">0.5 ft</text>
<text transform="translate(114.83,346.93) scale(0.98,1)" class="tl">11:43 pm</text>
<circle cx="139.92" cy="208.77" r="1.8" fill="#000"/>
<text transform="translate(139.92,186.77) scale(0.98,1)" class="tl">7:35 am</text>
<text transform="translate(139.92,195.17) scale(0.98,1)" class="tl">2.8 ft</text>
<text transform="translate(139.92,205.77) scale(0.98,1)" class="tl">0.84 m</text>
<circle cx="151.03" cy="214.96" r="1.8" fill="#000"/>
<text transform="translate(151.03,225.66) scale(0.98,1)" class="tl">0.80 m</text>
<text transform="translate(151.03,235.56) scale(0.98,1)" class="tl">2.6 ft</text>
<text transform="translate(151.03,244.76) scale(0.98,1)" class="tl">11:04 am</text>
<circle cx="169.32" cy="182.45" r="1.8" fill="#000"/>
<text transform="translate(169.32,160.45) scale(0.98,1)" class="tl">4:48 pm</text>
<text transform="translate(169.32,168.85) scale(0.98,1)" class="tl">3.3 ft</text>
<text transform="translate(169.32,179.45) scale(0.98,1)" class="tl">1.01 m</text>
<circle cx="193.88" cy="340.35" r="1.8" fill="#000"/>
<text transform="translate(193.88,351.05) scale(0.98,1)" class="tl">−0.01 m</text>
<text transform="translate(193.88,360.95) scale(0.98,1)" class="tl">−0.0 ft</text>
<text transform="translate(193.88,370.15) scale(0.98,1)" class="tl">12:30 am</text>
<circle cx="221.27" cy="193.29" r="1.8" fill="#000"/>
<text transform="translate(221.27,171.29) scale(0.98,1)" class="tl">9:05 am</text>
<text transform="translate(221.27,179.69) scale(0.98,1)" class="tl">3.1 ft</text>
<text transform="translate(221.27,190.29) scale(0.98,1)" class="tl">0.94 m</text>
<circle cx="230.57" cy="193.29" r="1.8" fill="#000"/>
<text transform="translate(230.57,203.99) scale(0.98,1)" class="tl">0.94 m</text>
<text transform="translate(230.57,213.89) scale(0.98,1)" class="tl">3.1 ft</text>
<text transform="translate(230.57,223.09) scale(0.98,1)" class="tl">12:00 pm</text>
<circle cx="247.37" cy="173.16" r="1.8" fill="#000"/>
<text transform="translate(247.37,151.16) scale(0.98,1)" class="tl">5:16 pm</text>
<text transform="translate(247.37,159.56) scale(0.98,1)" class="tl">3.5 ft</text>
<text transform="translate(247.37,170.16) scale(0.98,1)" class="tl">1.07 m</text>
<circle cx="273.16" cy="358.92" r="1.8" fill="#000"/>
<text transform="translate(273.16,369.62) scale(0.98,1)" class="tl">−0.13 m</text>
<text transform="translate(273.16,379.52) scale(0.98,1)" class="tl">−0.4 ft</text>
<text transform="translate(273.16,388.72) scale(0.98,1)" class="tl">1:21 am</text>
<circle cx="301.76" cy="176.26" r="1.8" fill="#000"/>
<text transform="translate(301.76,154.26) scale(0.98,1)" class="tl">10:19 am</text>
<text transform="translate(301.76,162.66) scale(0.98,1)" class="tl">3.4 ft</text>
<text transform="translate(301.76,173.26) scale(0.98,1)" class="tl">1.05 m</text>
<circle cx="311.17" cy="174.71" r="1.8" fill="#000"/>
<text transform="translate(311.17,185.41) scale(0.98,1)" class="tl">1.06 m</text>
<text transform="translate(311.17,195.31) scale(0.98,1)" class="tl">3.5 ft</text>
<text transform="translate(311.17,204.51) scale(0.98,1)" class="tl">1:16 pm</text>
<circle cx="326.11" cy="165.42" r="1.8" fill="#000"/>
<text transform="translate(326.11,143.42) scale(0.98,1)" class="tl">5:57 pm</text>
<text transform="translate(326.11,151.82) scale(0.98,1)" class="tl">3.7 ft</text>
<text transform="translate(326.11,162.42) scale(0.98,1)" class="tl">1.12 m</text>
<circle cx="352.59" cy="374.40" r="1.8" fill="#000"/>
<text transform="translate(352.59,385.10) scale(0.98,1)" class="tl">−0.23 m</text>
<text transform="translate(352.59,395.00) scale(0.98,1)" class="tl">−0.8 ft</text>
<text transform="translate(352.59,404.20) scale(0.98,1)" class="tl">2:15 am</text>
<circle cx="381.30" cy="162.33" r="1.8" fill="#000"/>
<text transform="translate(381.30,140.33) scale(0.98,1)" class="tl">11:15 am</text>
<text transform="translate(381.30,148.73) scale(0.98,1)" class="tl">3.7 ft</text>
<text transform="translate(381.30,159.33) scale(0.98,1)" class="tl">1.14 m</text>
<circle cx="392.04" cy="165.42" r="1.8" fill="#000"/>
<text transform="translate(392.04,176.12) scale(0.98,1)" class="tl">1.12 m</text>
<text transform="translate(392.04,186.02) scale(0.98,1)" class="tl">3.7 ft</text>
<text transform="translate(392.04,195.22) scale(0.98,1)" class="tl">2:37 pm</text>
<circle cx="405.59" cy="159.23" r="1.8" fill="#000"/>
<text transform="translate(405.59,137.23) scale(0.98,1)" class="tl">6:52 pm</text>
<text transform="translate(405.59,145.63) scale(0.98,1)" class="tl">3.8 ft</text>
<text transform="translate(405.59,156.23) scale(0.98,1)" class="tl">1.16 m</text>
<circle cx="432.18" cy="385.24" r="1.8" fill="#000"/>
<text transform="translate(432.18,395.94) scale(0.98,1)" class="tl">−0.30 m</text>
<text transform="translate(432.18,405.84) scale(0.98,1)" class="tl">−1.0 ft</text>
<text transform="translate(432.18,415.04) scale(0.98,1)" class="tl">3:12 am</text>
<circle cx="460.30" cy="153.04" r="1.8" fill="#000"/>
<text transform="translate(460.30,131.04) scale(0.98,1)" class="tl">12:01 pm</text>
<text transform="translate(460.30,139.44) scale(0.98,1)" class="tl">3.9 ft</text>
<text transform="translate(460.30,150.04) scale(0.98,1)" class="tl">1.20 m</text>
<circle cx="472.53" cy="163.88" r="1.8" fill="#000"/>
<text transform="translate(472.53,174.58) scale(0.98,1)" class="tl">1.13 m</text>
<text transform="translate(472.53,184.48) scale(0.98,1)" class="tl">3.7 ft</text>
<text transform="translate(472.53,193.68) scale(0.98,1)" class="tl">3:51 pm</text>
<circle cx="485.72" cy="157.68" r="1.8" fill="#000"/>
<text transform="translate(485.72,135.68) scale(0.98,1)" class="tl">7:59 pm</text>
<text transform="translate(485.72,144.08) scale(0.98,1)" class="tl">3.8 ft</text>
<text transform="translate(485.72,154.68) scale(0.98,1)" class="tl">1.17 m</text>
<circle cx="511.72" cy="388.34" r="1.8" fill="#000"/>
<text transform="translate(511.72,399.04) scale(0.98,1)" class="tl">−0.32 m</text>
<text transform="translate(511.72,408.94) scale(0.98,1)" class="tl">−1.0 ft</text>
<text transform="translate(511.72,418.14) scale(0.98,1)" class="tl">4:08 am</text>
<circle cx="539.04" cy="146.85" r="1.8" fill="#000"/>
<text transform="translate(539.04,124.85) scale(0.98,1)" class="tl">12:42 pm</text>
<text transform="translate(539.04,133.25) scale(0.98,1)" class="tl">4.1 ft</text>
<text transform="translate(539.04,143.85) scale(0.98,1)" class="tl">1.24 m</text>
<circle cx="552.55" cy="170.07" r="1.8" fill="#000"/>
<text transform="translate(552.55,180.77) scale(0.98,1)" class="tl">1.09 m</text>
<text transform="translate(552.55,190.67) scale(0.98,1)" class="tl">3.6 ft</text>
<text transform="translate(552.55,199.87) scale(0.98,1)" class="tl">4:56 pm</text>
<circle cx="566.26" cy="157.68" r="1.8" fill="#000"/>
<text transform="translate(566.26,135.68) scale(0.98,1)" class="tl">9:14 pm</text>
<text transform="translate(566.26,144.08) scale(0.98,1)" class="tl">3.8 ft</text>
<text transform="translate(566.26,154.68) scale(0.98,1)" class="tl">1.17 m</text>
<circle cx="591.25" cy="386.79" r="1.8" fill="#000"/>
<text transform="translate(591.25,397.49) scale(0.98,1)" class="tl">−0.31 m</text>
<text transform="translate(591.25,407.39) scale(0.98,1)" class="tl">−1.0 ft</text>
<text transform="translate(591.25,416.59) scale(0.98,1)" class="tl">5:04 am</text>
<circle cx="617.62" cy="146.85" r="1.8" fill="#000"/>
<text transform="translate(617.62,124.85) scale(0.98,1)" class="tl">1:20 pm</text>
<text transform="translate(617.62,133.25) scale(0.98,1)" class="tl">4.1 ft</text>
<text transform="translate(617.62,143.85) scale(0.98,1)" class="tl">1.24 m</text>
<circle cx="632.24" cy="185.55" r="1.8" fill="#000"/>
<text transform="translate(632.24,196.25) scale(0.98,1)" class="tl">0.99 m</text>
<text transform="translate(632.24,206.15) scale(0.98,1)" class="tl">3.2 ft</text>
<text transform="translate(632.24,215.35) scale(0.98,1)" class="tl">5:55 pm</text>
<circle cx="646.87" cy="162.33" r="1.8" fill="#000"/>
<text transform="translate(646.87,140.33) scale(0.98,1)" class="tl">10:30 pm</text>
<text transform="translate(646.87,148.73) scale(0.98,1)" class="tl">3.7 ft</text>
<text transform="translate(646.87,159.33) scale(0.98,1)" class="tl">1.14 m</text>
<circle cx="670.68" cy="375.95" r="1.8" fill="#000"/>
<text transform="translate(670.68,386.65) scale(0.98,1)" class="tl">−0.24 m</text>
<text transform="translate(670.68,396.55) scale(0.98,1)" class="tl">−0.8 ft</text>
<text transform="translate(670.68,405.75) scale(0.98,1)" class="tl">5:58 am</text>
<circle cx="696.10" cy="148.40" r="1.8" fill="#000"/>
<text transform="translate(696.10,126.40) scale(0.98,1)" class="tl">1:56 pm</text>
<text transform="translate(696.10,134.80) scale(0.98,1)" class="tl">4.0 ft</text>
<text transform="translate(696.10,145.40) scale(0.98,1)" class="tl">1.23 m</text>
<rect x="48.4" y="57.5" width="1.6" height="408.0" fill="#111"/>
<rect x="46.0" y="462.14" width="2.40" height="1" fill="#333"/>
<rect x="46.0" y="431.18" width="2.40" height="1" fill="#333"/>
<rect x="46.0" y="400.22" width="2.40" height="1" fill="#333"/>
<rect x="46.0" y="369.26" width="2.40" height="1" fill="#333"/>
<rect x="42.2" y="338.30" width="6.20" height="1" fill="#333"/>
<rect x="46.0" y="307.34" width="2.40" height="1" fill="#333"/>
<rect x="46.0" y="276.38" width="2.40" height="1" fill="#333"/>
<rect x="46.0" y="245.42" width="2.40" height="1" fill="#333"/>
<rect x="46.0" y="214.46" width="2.40" height="1" fill="#333"/>
<rect x="42.2" y="183.50" width="6.20" height="1" fill="#333"/>
<rect x="46.0" y="152.54" width="2.40" height="1" fill="#333"/>
<rect x="46.0" y="121.58" width="2.40" height="1" fill="#333"/>
<rect x="46.0" y="90.62" width="2.40" height="1" fill="#333"/>
<rect x="46.0" y="59.66" width="2.40" height="1" fill="#333"/>
<text x="35.8" y="188.20" class="ax" text-anchor="end">1 m</text>
<text x="35.8" y="343.00" class="ax" text-anchor="end">0 m</text>
<rect x="742" y="53.70" width="2" height="411.80" fill="#1e1e1e"/>
<rect x="744" y="455.52" width="2.70" height="1" fill="#333"/>
<rect x="744" y="431.90" width="5.80" height="1" fill="#333"/>
<text x="780.9" y="437.40" class="ax" text-anchor="end">−2 ft</text>
<rect x="744" y="408.27" width="2.70" height="1" fill="#333"/>
<rect x="744" y="384.65" width="5.80" height="1" fill="#333"/>
<text x="780.9" y="390.15" class="ax" text-anchor="end">−1 ft</text>
<rect x="744" y="361.02" width="2.70" height="1" fill="#333"/>
<rect x="744" y="337.40" width="5.80" height="1" fill="#333"/>
<text x="780.9" y="342.90" class="ax" text-anchor="end">0 ft</text>
<rect x="744" y="313.77" width="2.70" height="1" fill="#333"/>
<rect x="744" y="290.15" width="5.80" height="1" fill="#333"/>
<text x="780.9" y="295.65" class="ax" text-anchor="end">1 ft</text>
<rect x="744" y="266.52" width="2.70" height="1" fill="#333"/>
<rect x="744" y="242.90" width="5.80" height="1" fill="#333"/>
<text x="780.9" y="248.40" class="ax" text-anchor="end">2 ft</text>
<rect x="744" y="219.27" width="2.70" height="1" fill="#333"/>
<rect x="744" y="195.65" width="5.80" height="1" fill="#333"/>
<text x="780.9" y="201.15" class="ax" text-anchor="end">3 ft</text>
<rect x="744" y="172.02" width="2.70" height="1" fill="#333"/>
<rect x="744" y="148.40" width="5.80" height="1" fill="#333"/>
<text x="780.9" y="153.90" class="ax" text-anchor="end">4 ft</text>
<rect x="744" y="124.77" width="2.70" height="1" fill="#333"/>
<rect x="744" y="101.15" width="5.80" height="1" fill="#333"/>
<text x="780.9" y="106.65" class="ax" text-anchor="end">5 ft</text>
<rect x="744" y="77.52" width="2.70" height="1" fill="#333"/>
<rect x="744" y="53.90" width="5.80" height="1" fill="#333"/>
<text x="780.9" y="59.40" class="ax" text-anchor="end">6 ft</text>
<text x="396.3" y="14.8" class="title" textLength="545.5" lengthAdjust="spacingAndGlyphs">Chernofski Harbor, Unalaska Island, Alaska (max. tidal range 2.20m 7.2ft)</text>
<text x="396.3" y="28.5" class="sub" textLength="653" lengthAdjust="spacingAndGlyphs">Times are AKDT (UTC −8.0hrs). Last Spring Tide on Sat 15 Oct (h=1.22m 4.0ft). Next Spring Tide on Sun 30 Oct (h=1.24m 4.1ft)</text>
<text transform="translate(77.45,41.7) scale(0.94,1)" class="day">Mon</text>
<text transform="translate(77.45,53.1) scale(0.94,1)" class="day">24−Oct</text>
<text transform="translate(154.01,41.7) scale(0.94,1)" class="day">Tue</text>
<text transform="translate(154.01,53.1) scale(0.94,1)" class="day">25−Oct</text>
<text transform="translate(230.57,41.7) scale(0.94,1)" class="day">Wed</text>
<text transform="translate(230.57,53.1) scale(0.94,1)" class="day">26−Oct</text>
<text transform="translate(307.13,41.7) scale(0.94,1)" class="day">Thu</text>
<text transform="translate(307.13,53.1) scale(0.94,1)" class="day">27−Oct</text>
<text transform="translate(383.69,41.7) scale(0.94,1)" class="day">Fri</text>
<text transform="translate(383.69,53.1) scale(0.94,1)" class="day">28−Oct</text>
<text transform="translate(460.25,41.7) scale(0.94,1)" class="day">Sat</text>
<text transform="translate(460.25,53.1) scale(0.94,1)" class="day">29−Oct</text>
<text transform="translate(536.81,41.7) scale(0.94,1)" class="day">Sun</text>
<text transform="translate(536.81,53.1) scale(0.94,1)" class="day">30−Oct</text>
<text transform="translate(613.37,41.7) scale(0.94,1)" class="day">Mon</text>
<text transform="translate(613.37,53.1) scale(0.94,1)" class="day">31−Oct</text>
<text transform="translate(689.93,41.7) scale(0.94,1)" class="day">Tue</text>
<text transform="translate(689.93,53.1) scale(0.94,1)" class="day">01−Nov</text>
<text x="45.9" y="479.6" class="row" text-anchor="end">Sunrise</text>
<text x="746.3" y="479.6" class="row" text-anchor="start">Sunrise</text>
<text x="45.9" y="493.2" class="row" text-anchor="end">Sunset</text>
<text x="746.3" y="493.2" class="row" text-anchor="start">Sunset</text>
<text x="45.9" y="506.8" class="row" text-anchor="end">Moonrise</text>
<text x="746.3" y="506.8" class="row" text-anchor="start">Moonrise</text>
<text x="45.9" y="520.5" class="row" text-anchor="end">Moonset</text>
<text x="746.3" y="520.5" class="row" text-anchor="start">Moonset</text>
<polygon points="147.42,469.20 149.94,472.02 153.41,473.55 151.51,476.83 151.12,480.60 147.42,479.80 143.71,480.60 143.33,476.83 141.43,473.55 144.89,472.02" fill="#c4c24a" stroke="#7d7c1a" stroke-width="1.2" stroke-linejoin="miter" stroke-miterlimit="10"/>
<text transform="translate(154.32,479.6) scale(0.955,1)" class="ev">9:56am</text>
<polygon points="224.08,469.20 226.61,472.02 230.08,473.55 228.17,476.83 227.79,480.60 224.08,479.80 220.38,480.60 219.99,476.83 218.09,473.55 221.56,472.02" fill="#c4c24a" stroke="#7d7c1a" stroke-width="1.2" stroke-linejoin="miter" stroke-miterlimit="10"/>
<text transform="translate(230.98,479.6) scale(0.955,1)" class="ev">9:58am</text>
<polygon points="300.75,469.20 303.28,472.02 306.74,473.55 304.84,476.83 304.45,480.60 300.75,479.80 297.05,480.60 296.66,476.83 294.76,473.55 298.22,472.02" fill="#c4c24a" stroke="#7d7c1a" stroke-width="1.2" stroke-linejoin="miter" stroke-miterlimit="10"/>
<text transform="translate(307.65,479.6) scale(0.955,1)" class="ev">10:00am</text>
<polygon points="377.36,469.20 379.89,472.02 383.35,473.55 381.45,476.83 381.07,480.60 377.36,479.80 373.66,480.60 373.27,476.83 371.37,473.55 374.84,472.02" fill="#c4c24a" stroke="#7d7c1a" stroke-width="1.2" stroke-linejoin="miter" stroke-miterlimit="10"/>
<text transform="translate(384.26,479.6) scale(0.955,1)" class="ev">10:01am</text>
<polygon points="454.03,469.20 456.56,472.02 460.02,473.55 458.12,476.83 457.73,480.60 454.03,479.80 450.33,480.60 449.94,476.83 448.04,473.55 451.50,472.02" fill="#c4c24a" stroke="#7d7c1a" stroke-width="1.2" stroke-linejoin="miter" stroke-miterlimit="10"/>
<text transform="translate(460.93,479.6) scale(0.955,1)" class="ev">10:03am</text>
<polygon points="530.70,469.20 533.22,472.02 536.69,473.55 534.79,476.83 534.40,480.60 530.70,479.80 526.99,480.60 526.61,476.83 524.70,473.55 528.17,472.02" fill="#c4c24a" stroke="#7d7c1a" stroke-width="1.2" stroke-linejoin="miter" stroke-miterlimit="10"/>
<text transform="translate(537.60,479.6) scale(0.955,1)" class="ev">10:05am</text>
<polygon points="607.36,469.20 609.89,472.02 613.35,473.55 611.45,476.83 611.07,480.60 607.36,479.80 603.66,480.60 603.27,476.83 601.37,473.55 604.83,472.02" fill="#c4c24a" stroke="#7d7c1a" stroke-width="1.2" stroke-linejoin="miter" stroke-miterlimit="10"/>
<text transform="translate(614.26,479.6) scale(0.955,1)" class="ev">10:07am</text>
<polygon points="684.03,469.20 686.56,472.02 690.02,473.55 688.12,476.83 687.73,480.60 684.03,479.80 680.33,480.60 679.94,476.83 678.04,473.55 681.50,472.02" fill="#c4c24a" stroke="#7d7c1a" stroke-width="1.2" stroke-linejoin="miter" stroke-miterlimit="10"/>
<text transform="translate(690.93,479.6) scale(0.955,1)" class="ev">10:09am</text>
<polygon points="102.60,483.10 105.13,485.92 108.59,487.45 106.69,490.73 106.30,494.50 102.60,493.70 98.89,494.50 98.51,490.73 96.61,487.45 100.07,485.92" fill="#e8622c" stroke="#83471a" stroke-width="1.2" stroke-linejoin="miter" stroke-miterlimit="10"/>
<text transform="translate(109.40,493.6) scale(0.955,1)" class="ev">7:53pm</text>
<polygon points="179.05,483.10 181.58,485.92 185.04,487.45 183.14,490.73 182.75,494.50 179.05,493.70 175.35,494.50 174.96,490.73 173.06,487.45 176.52,485.92" fill="#e8622c" stroke="#83471a" stroke-width="1.2" stroke-linejoin="miter" stroke-miterlimit="10"/>
<text transform="translate(185.85,493.6) scale(0.955,1)" class="ev">7:51pm</text>
<polygon points="255.51,483.10 258.03,485.92 261.50,487.45 259.59,490.73 259.21,494.50 255.51,493.70 251.80,494.50 251.42,490.73 249.51,487.45 252.98,485.92" fill="#e8622c" stroke="#83471a" stroke-width="1.2" stroke-linejoin="miter" stroke-miterlimit="10"/>
<text transform="translate(262.31,493.6) scale(0.955,1)" class="ev">7:49pm</text>
<polygon points="331.91,483.10 334.43,485.92 337.90,487.45 336.00,490.73 335.61,494.50 331.91,493.70 328.20,494.50 327.82,490.73 325.91,487.45 329.38,485.92" fill="#e8622c" stroke="#83471a" stroke-width="1.2" stroke-linejoin="miter" stroke-miterlimit="10"/>
<text transform="translate(338.71,493.6) scale(0.955,1)" class="ev">7:46pm</text>
<polygon points="408.36,483.10 410.89,485.92 414.35,487.45 412.45,490.73 412.06,494.50 408.36,493.70 404.66,494.50 404.27,490.73 402.37,487.45 405.83,485.92" fill="#e8622c" stroke="#83471a" stroke-width="1.2" stroke-linejoin="miter" stroke-miterlimit="10"/>
<text transform="translate(415.16,493.6) scale(0.955,1)" class="ev">7:44pm</text>
<polygon points="484.81,483.10 487.34,485.92 490.80,487.45 488.90,490.73 488.52,494.50 484.81,493.70 481.11,494.50 480.72,490.73 478.82,487.45 482.29,485.92" fill="#e8622c" stroke="#83471a" stroke-width="1.2" stroke-linejoin="miter" stroke-miterlimit="10"/>
<text transform="translate(491.61,493.6) scale(0.955,1)" class="ev">7:42pm</text>
<polygon points="561.27,483.10 563.79,485.92 567.26,487.45 565.36,490.73 564.97,494.50 561.27,493.70 557.56,494.50 557.18,490.73 555.28,487.45 558.74,485.92" fill="#e8622c" stroke="#83471a" stroke-width="1.2" stroke-linejoin="miter" stroke-miterlimit="10"/>
<text transform="translate(568.07,493.6) scale(0.955,1)" class="ev">7:40pm</text>
<polygon points="637.72,483.10 640.25,485.92 643.71,487.45 641.81,490.73 641.42,494.50 637.72,493.70 634.02,494.50 633.63,490.73 631.73,487.45 635.19,485.92" fill="#e8622c" stroke="#83471a" stroke-width="1.2" stroke-linejoin="miter" stroke-miterlimit="10"/>
<text transform="translate(644.52,493.6) scale(0.955,1)" class="ev">7:38pm</text>
<circle cx="148.91" cy="503.0" r="5" fill="#ffffc8" stroke="#8a8a80" stroke-width="0.8"/>
<text transform="translate(155.71,506.6) scale(0.955,1)" class="ev">10:24am</text>
<circle cx="230.20" cy="503.0" r="5" fill="#ffffc8" stroke="#8a8a80" stroke-width="0.8"/>
<text transform="translate(237.00,506.6) scale(0.955,1)" class="ev">11:53am</text>
<circle cx="311.60" cy="503.0" r="5" fill="#ffffc8" stroke="#8a8a80" stroke-width="0.8"/>
<text transform="translate(318.40,506.6) scale(0.955,1)" class="ev">1:24pm</text>
<circle cx="392.78" cy="503.0" r="5" fill="#ffffc8" stroke="#8a8a80" stroke-width="0.8"/>
<text transform="translate(399.58,506.6) scale(0.955,1)" class="ev">2:51pm</text>
<circle cx="473.28" cy="503.0" r="5" fill="#ffffc8" stroke="#8a8a80" stroke-width="0.8"/>
<text transform="translate(480.08,506.6) scale(0.955,1)" class="ev">4:05pm</text>
<circle cx="552.71" cy="503.0" r="5" fill="#ffffc8" stroke="#8a8a80" stroke-width="0.8"/>
<text transform="translate(559.51,506.6) scale(0.955,1)" class="ev">4:59pm</text>
<circle cx="631.13" cy="503.0" r="5" fill="#ffffc8" stroke="#8a8a80" stroke-width="0.8"/>
<text transform="translate(637.93,506.6) scale(0.955,1)" class="ev">5:34pm</text>
<circle cx="102.39" cy="516.6" r="5" fill="#c9c5b2" stroke="#77776f" stroke-width="0.8"/>
<text transform="translate(109.19,520.6) scale(0.955,1)" class="ev">7:49pm</text>
<circle cx="179.64" cy="516.6" r="5" fill="#c9c5b2" stroke="#77776f" stroke-width="0.8"/>
<text transform="translate(186.44,520.6) scale(0.955,1)" class="ev">8:02pm</text>
<circle cx="257.15" cy="516.6" r="5" fill="#c9c5b2" stroke="#77776f" stroke-width="0.8"/>
<text transform="translate(263.95,520.6) scale(0.955,1)" class="ev">8:20pm</text>
<circle cx="335.10" cy="516.6" r="5" fill="#c9c5b2" stroke="#77776f" stroke-width="0.8"/>
<text transform="translate(341.90,520.6) scale(0.955,1)" class="ev">8:46pm</text>
<circle cx="413.68" cy="516.6" r="5" fill="#c9c5b2" stroke="#77776f" stroke-width="0.8"/>
<text transform="translate(420.48,520.6) scale(0.955,1)" class="ev">9:24pm</text>
<circle cx="493.32" cy="516.6" r="5" fill="#c9c5b2" stroke="#77776f" stroke-width="0.8"/>
<text transform="translate(500.12,520.6) scale(0.955,1)" class="ev">10:22pm</text>
<circle cx="573.92" cy="516.6" r="5" fill="#c9c5b2" stroke="#77776f" stroke-width="0.8"/>
<text transform="translate(580.72,520.6) scale(0.955,1)" class="ev">11:38pm</text>
<circle cx="655.16" cy="516.6" r="5" fill="#c9c5b2" stroke="#77776f" stroke-width="0.8"/>
<text transform="translate(661.96,520.6) scale(0.955,1)" class="ev">1:06am</text>
<text transform="translate(117.6,533.3) scale(0.95,1)" class="ev" text-anchor="middle">New Moon | 2:48am</text>
<text transform="translate(639,533.3) scale(0.95,1)" class="ev" text-anchor="middle">First Quarter | 10:38pm</text>
</svg>
</body></html>
